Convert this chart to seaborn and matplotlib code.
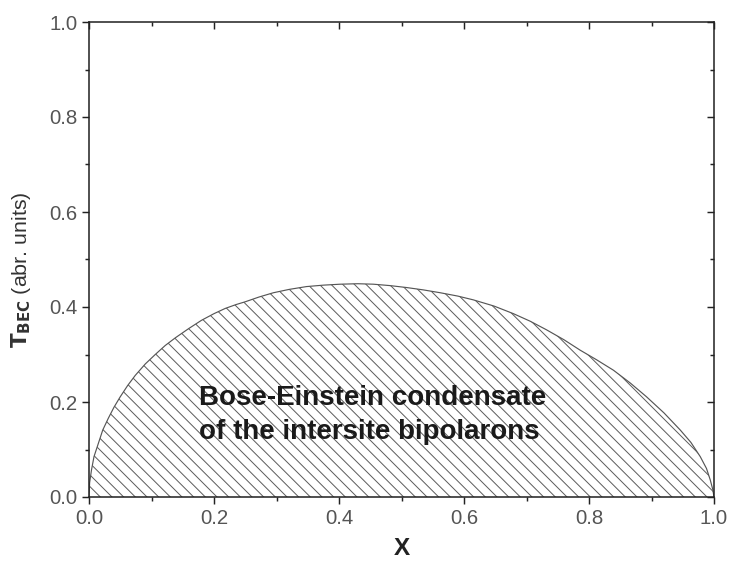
import matplotlib
matplotlib.use("Agg")
import matplotlib.pyplot as plt
from matplotlib.ticker import MultipleLocator, NullFormatter
import seaborn as sns
import pandas as pd

# Condensation temperature of intersite bipolarons versus doping x
x_values = [0.0, 0.001, 0.004, 0.008, 0.015, 0.022, 0.031, 0.040, 0.050, 0.062,
            0.074, 0.090, 0.106, 0.122, 0.138, 0.160, 0.180, 0.200, 0.218, 0.235,
            0.250, 0.272, 0.295, 0.320, 0.348, 0.375, 0.402, 0.430, 0.455, 0.482,
            0.508, 0.535, 0.562, 0.590, 0.615, 0.648, 0.679, 0.706, 0.732, 0.760,
            0.786, 0.812, 0.839, 0.866, 0.892, 0.920, 0.946, 0.963, 0.978, 0.988,
            0.994, 0.998, 1.0]
t_bec = [0.0, 0.030, 0.057, 0.085, 0.113, 0.141, 0.166, 0.189, 0.211, 0.235,
         0.256, 0.280, 0.300, 0.319, 0.335, 0.355, 0.372, 0.386, 0.397, 0.405,
         0.411, 0.421, 0.430, 0.437, 0.443, 0.446, 0.448, 0.449, 0.448, 0.445,
         0.441, 0.436, 0.430, 0.423, 0.415, 0.402, 0.386, 0.370, 0.352, 0.331,
         0.309, 0.289, 0.267, 0.240, 0.211, 0.177, 0.141, 0.115, 0.085, 0.060,
         0.036, 0.016, 0.0]

x_ticks = [0.0, 0.2, 0.4, 0.6, 0.8, 1.0]
y_ticks = [0.0, 0.2, 0.4, 0.6, 0.8, 1.0]
region_label = "Bose-Einstein condensate\nof the intersite bipolarons"

df = pd.DataFrame({"x": x_values, "T": t_bec})

sns.set_theme(style="ticks")
plt.rcParams["font.family"] = ["Liberation Sans", "DejaVu Sans"]
plt.rcParams["hatch.linewidth"] = 1.0
plt.rcParams["hatch.color"] = "#5a5a5a"

DPI = 70
fig = plt.figure(figsize=(729 / DPI, 565 / DPI), dpi=DPI)
ax = fig.add_axes([89 / 729, 1 - 497 / 565, (714 - 89) / 729, (497 - 22) / 565])

ax.fill_between(df["x"], 0, df["T"], facecolor="white", edgecolor="#5a5a5a",
                hatch="\\\\", linewidth=0)
sns.lineplot(data=df, x="x", y="T", ax=ax, color="#555555", linewidth=1.2,
             sort=False, estimator=None)

ax.set_xlim(0, 1)
ax.set_ylim(0, 1)
ax.set_xticks(x_ticks)
ax.set_yticks(y_ticks)
ax.set_xticklabels([f"{v:.1f}" for v in x_ticks])
ax.set_yticklabels([f"{v:.1f}" for v in y_ticks])
ax.xaxis.set_minor_locator(MultipleLocator(0.1))
ax.yaxis.set_minor_locator(MultipleLocator(0.1))

for side in ["left", "right", "top", "bottom"]:
    ax.spines[side].set_visible(True)
    ax.spines[side].set_color("#222222")
    ax.spines[side].set_linewidth(1.6)

ax.tick_params(axis="both", which="major", direction="out", length=7, width=1.5,
               color="#222222", labelsize=21, labelcolor="#555555", pad=5)
ax.tick_params(axis="both", which="minor", direction="out", length=4, width=1.5,
               color="#222222")

# mirrored inward ticks, without labels, on the top and right edges
top = ax.secondary_xaxis("top")
top.set_xticks(x_ticks)
top.xaxis.set_major_formatter(NullFormatter())
top.xaxis.set_minor_locator(MultipleLocator(0.1))
top.tick_params(which="major", direction="in", length=7, width=1.5,
                color="#222222", labeltop=False)
top.tick_params(which="minor", direction="in", length=4, width=1.5,
                color="#222222")
top.spines["top"].set_visible(False)

right = ax.secondary_yaxis("right")
right.set_yticks(y_ticks)
right.yaxis.set_major_formatter(NullFormatter())
right.yaxis.set_minor_locator(MultipleLocator(0.1))
right.tick_params(which="major", direction="in", length=7, width=1.5,
                  color="#222222", labelright=False)
right.tick_params(which="minor", direction="in", length=4, width=1.5,
                  color="#222222")
right.spines["right"].set_visible(False)

ax.set_xlabel("X", fontsize=25, fontweight="bold", color="#222222", labelpad=10)
ax.set_ylabel(r"$\mathbf{T}_{\mathbf{BEC}}$ (abr. units)", fontsize=22,
              color="#333333")
ax.yaxis.set_label_coords(-0.089, 0.478)

ax.text(0.176, 0.173, region_label, fontsize=28.5, fontweight="bold",
        color="#1a1a1a", ha="left", va="center", linespacing=1.4)

fig.savefig("out.png", dpi=DPI)
